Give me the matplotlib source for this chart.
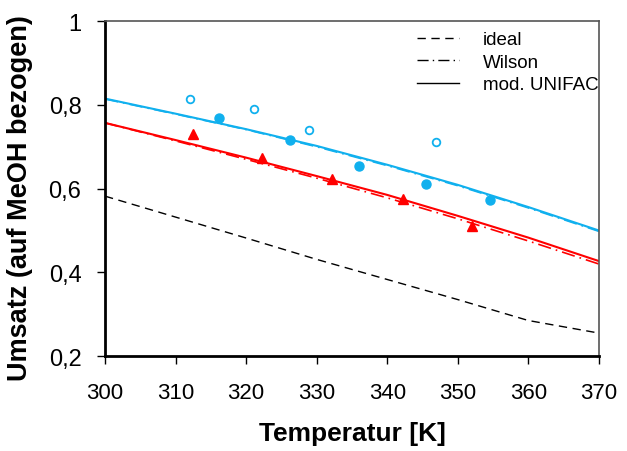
import numpy as np
import matplotlib.pyplot as plt
from matplotlib.ticker import FuncFormatter

plt.rcParams['font.family'] = ['Liberation Sans', 'DejaVu Sans']

# model curves
T = [300, 310, 320, 330, 340, 350, 360, 370]
ideal = [0.582, 0.532, 0.482, 0.431, 0.383, 0.335, 0.285, 0.255]
blue_unifac = [0.815, 0.779, 0.742, 0.702, 0.657, 0.609, 0.556, 0.500]
blue_wilson = [0.814, 0.778, 0.741, 0.700, 0.655, 0.607, 0.554, 0.498]
red_unifac = [0.757, 0.716, 0.674, 0.630, 0.585, 0.535, 0.483, 0.427]
red_wilson = [0.757, 0.714, 0.670, 0.625, 0.578, 0.528, 0.475, 0.420]

# measured points
T_open = [312.0, 321.1, 328.9, 346.9]
v_open = [0.814, 0.790, 0.740, 0.711]
T_fill = [316.2, 326.2, 336.0, 345.5, 354.6]
v_fill = [0.768, 0.716, 0.654, 0.611, 0.573]
T_tri = [312.5, 322.2, 332.2, 342.2, 352.0]
v_tri = [0.730, 0.673, 0.623, 0.575, 0.510]

blue = '#10B0EE'
red = '#FF0000'

fig = plt.figure(figsize=(6.27, 4.52), dpi=100)
ax = fig.add_axes([0.1675, 0.21, 0.7875, 0.741])

ax.plot(T, ideal, color='black', lw=1, dashes=(6, 4))
ax.plot(T, blue_wilson, color=blue, lw=1.2, dashes=(8, 3, 1, 3))
ax.plot(T, blue_unifac, color=blue, lw=1.5)
ax.plot(T, red_wilson, color=red, lw=1.2, dashes=(8, 3, 1, 3))
ax.plot(T, red_unifac, color=red, lw=1.5)

ax.plot(T_open, v_open, 'o', mfc='white', mec=blue, mew=1.3, ms=5.5)
ax.plot(T_fill, v_fill, 'o', color=blue, ms=6.5)
ax.plot(T_tri, v_tri, '^', color=red, ms=6.8)

# legend handles in black
h1, = ax.plot([], [], color='black', lw=1, dashes=(6, 4))
h2, = ax.plot([], [], color='black', lw=1, dashes=(8, 3, 1, 3))
h3, = ax.plot([], [], color='black', lw=1)
ax.legend([h1, h2, h3], ['ideal', 'Wilson', 'mod. UNIFAC'], loc='upper right',
          bbox_to_anchor=(1.0, 0.97), frameon=False, fontsize=13.5,
          borderaxespad=0, borderpad=0,
          handlelength=2.25, handletextpad=1.3, labelspacing=0.28)

ax.set_xlim(300, 370)
ax.set_ylim(0.2, 1.0)
ax.set_xticks(np.arange(300, 371, 10))
ax.set_yticks([0.2, 0.4, 0.6, 0.8, 1.0])
ax.yaxis.set_major_formatter(FuncFormatter(
    lambda v, p: '1' if abs(v - 1) < 1e-9 else ('%.1f' % v).replace('.', ',')))
ax.tick_params(direction='out', length=6, width=1)
ax.tick_params(axis='x', pad=13, labelsize=16)
ax.tick_params(axis='y', pad=11, labelsize=17)

for s in ['left', 'bottom']:
    ax.spines[s].set_linewidth(2)
    ax.spines[s].set_color('black')
for s in ['top', 'right']:
    ax.spines[s].set_linewidth(1.2)
    ax.spines[s].set_color('#555555')

ax.set_xlabel('Temperatur [K]', fontsize=19, fontweight='bold')
ax.set_ylabel('Umsatz (auf MeOH bezogen)', fontsize=19.5, fontweight='bold')
ax.xaxis.set_label_coords(0.502, -0.194)
ax.yaxis.set_label_coords(-0.146, 0.475)

fig.savefig('out.png', dpi=100)
